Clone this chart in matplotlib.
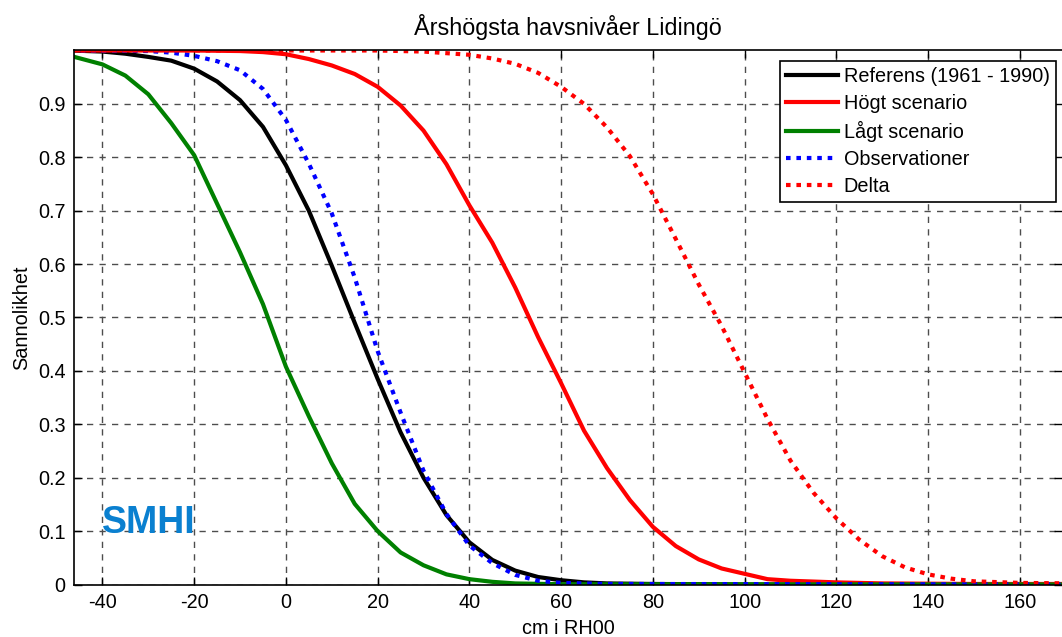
import matplotlib
matplotlib.use("Agg")
import matplotlib.pyplot as plt

plt.rcParams['font.family'] = ['Liberation Sans', 'DejaVu Sans']
plt.rcParams['axes.unicode_minus'] = False

# Referens (1961 - 1990)
ref_x = [-47, -40, -35, -30, -25, -20, -15, -10, -5, 0, 5, 10, 15, 20, 25, 30, 35, 40, 45, 50, 55, 60, 65, 70, 80, 100, 172]
ref_y = [1.0, 0.998, 0.994, 0.988, 0.981, 0.966, 0.942, 0.907, 0.857, 0.785, 0.70, 0.597, 0.49, 0.385, 0.285, 0.20, 0.13, 0.079, 0.046, 0.026, 0.014, 0.008, 0.004, 0.002, 0.001, 0.0, 0.0]

# Högt scenario
hog_x = [-47, -20, -10, -5, 0, 5, 10, 15, 20, 25, 30, 35, 40, 45, 50, 55, 60, 65, 70, 75, 80, 85, 90, 95, 100, 105, 110, 120, 130, 150, 172]
hog_y = [1.0, 1.0, 0.999, 0.997, 0.993, 0.984, 0.972, 0.956, 0.932, 0.897, 0.85, 0.787, 0.71, 0.64, 0.556, 0.463, 0.377, 0.288, 0.218, 0.158, 0.108, 0.072, 0.047, 0.03, 0.02, 0.01, 0.007, 0.004, 0.002, 0.001, 0.001]

# Lågt scenario
lag_x = [-47, -40, -35, -30, -25, -20, -15, -10, -5, 0, 5, 10, 15, 20, 25, 30, 35, 40, 45, 50, 60, 172]
lag_y = [0.99, 0.974, 0.953, 0.918, 0.864, 0.804, 0.713, 0.622, 0.525, 0.408, 0.315, 0.227, 0.151, 0.1, 0.06, 0.036, 0.019, 0.01, 0.005, 0.002, 0.0005, 0.0]

# Observationer
obs_x = [-47, -30, -25, -20, -15, -10, -5, 0, 5, 10, 15, 20, 25, 30, 35, 40, 45, 50, 55, 60, 70, 172]
obs_y = [1.0, 0.999, 0.996, 0.99, 0.98, 0.963, 0.928, 0.87, 0.788, 0.695, 0.575, 0.437, 0.322, 0.213, 0.132, 0.073, 0.04, 0.018, 0.007, 0.003, 0.001, 0.0]

# Delta
del_x = [-47, 20, 30, 40, 45, 50, 55, 60, 65, 70, 75, 80, 85, 90, 95, 100, 105, 110, 115, 120, 125, 130, 135, 140, 145, 150, 160, 172]
del_y = [1.0, 1.0, 0.998, 0.992, 0.985, 0.975, 0.958, 0.932, 0.9, 0.856, 0.802, 0.731, 0.647, 0.562, 0.484, 0.397, 0.31, 0.232, 0.172, 0.124, 0.084, 0.053, 0.032, 0.019, 0.011, 0.006, 0.003, 0.002]

x_ticks = [-40, -20, 0, 20, 40, 60, 80, 100, 120, 140, 160]
y_ticks = [0, 0.1, 0.2, 0.3, 0.4, 0.5, 0.6, 0.7, 0.8, 0.9]
y_ticklabels = ['0', '0.1', '0.2', '0.3', '0.4', '0.5', '0.6', '0.7', '0.8', '0.9']

fs = 14.3
fig = plt.figure(figsize=(10.62, 6.37), dpi=100)
ax = fig.add_axes([74 / 1062, 1 - 584.5 / 637, (1062 - 74) / 1062, 534 / 637])

lw = 3.0
dots = (1.1, 1.4)
ax.plot(ref_x, ref_y, color='black', lw=lw, label='Referens (1961 - 1990)')
ax.plot(hog_x, hog_y, color='#ff0000', lw=lw, label='Högt scenario')
ax.plot(lag_x, lag_y, color='#008000', lw=lw, label='Lågt scenario')
ax.plot(obs_x, obs_y, color='#0000ff', lw=lw, dashes=dots, label='Observationer')
ax.plot(del_x, del_y, color='#ff0000', lw=lw, dashes=dots, label='Delta')

ax.set_xlim(-46.2, 169.2)
ax.set_ylim(0, 1)
ax.set_xticks(x_ticks)
ax.set_yticks(y_ticks)
ax.set_yticklabels(y_ticklabels)
ax.tick_params(direction='in', length=5.5, width=1, top=True, right=True,
               labelsize=fs, pad=6, colors='black')
ax.grid(True, color='0.3', linestyle=(0, (4.5, 4.5)), linewidth=1)
for s in ax.spines.values():
    s.set_linewidth(1.2)
ax.spines['right'].set_visible(False)

ax.set_title('Årshögsta havsnivåer Lidingö', fontsize=16.8, pad=11)
ax.set_xlabel('cm i RH00', fontsize=fs, labelpad=5)
ax.set_ylabel('Sannolikhet', fontsize=fs, labelpad=5)

ax.text(0.028, 0.097, 'SMHI', transform=ax.transAxes, fontsize=27, fontweight='bold',
        color='#0a80d0', ha='left', va='baseline')

leg = ax.legend(loc='upper left', bbox_to_anchor=(780 / 1062, 1 - 61 / 637),
                bbox_transform=fig.transFigure, borderaxespad=0, fontsize=fs,
                fancybox=False, framealpha=1, edgecolor='black',
                handlelength=2.6, handletextpad=0.3, labelspacing=0.4,
                borderpad=0.3)
leg.get_frame().set_linewidth(1.2)

fig.savefig('out.png', dpi=100)
